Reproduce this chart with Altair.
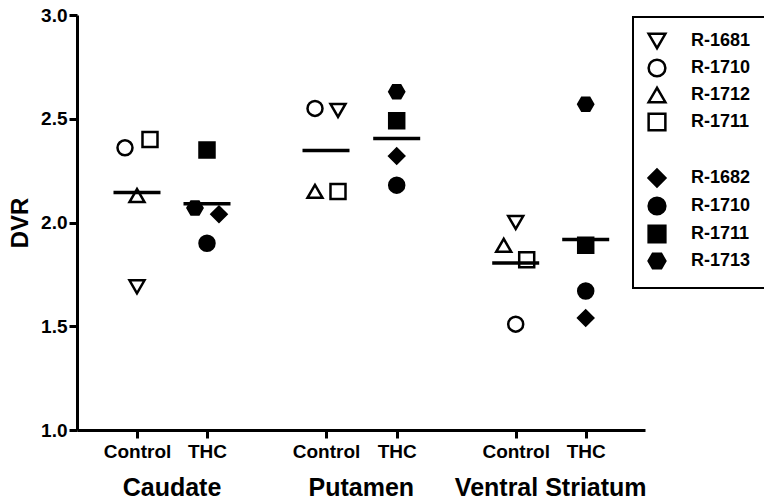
import altair as alt
import pandas as pd

# ---------------- data ----------------
regions = ["Caudate", "Putamen", "Ventral Striatum"]
conditions = ["Control", "THC"]
control_subjects = ["R-1681", "R-1710", "R-1712", "R-1711"]
thc_subjects = ["R-1682", "R-1710", "R-1711", "R-1713"]

caudate_control = [1.69, 2.36, 2.13, 2.40]
caudate_thc = [2.04, 1.90, 2.35, 2.07]
putamen_control = [2.54, 2.55, 2.15, 2.15]
putamen_thc = [2.32, 2.18, 2.49, 2.63]
ventral_control = [2.00, 1.51, 1.89, 1.82]
ventral_thc = [1.54, 1.67, 1.89, 2.57]

y_ticks = [1.0, 1.5, 2.0, 2.5, 3.0]

# ---------------- layout / styling ----------------
tick_positions = [1.0, 2.0, 3.7, 4.71, 6.41, 7.41]   # Control/THC slots on the x axis
x_domain = [0.143, 8.257]
plot_w, plot_h = 568, 415
px_per_unit = plot_w / (x_domain[1] - x_domain[0])
jitter_px = [[0, -12, 0, 13], [12, 0, 0, -12],
             [12, -11, -11, 12], [0, 0, 0, 0],
             [0, 0, -12, 11], [0, 0, 0, 0]]
half_bar = 23.5 / px_per_unit
FONT = "Liberation Sans"

series = [caudate_control, caudate_thc, putamen_control, putamen_thc,
          ventral_control, ventral_thc]

rows, means = [], []
for i, region in enumerate(regions):
    for j, cond in enumerate(conditions):
        idx = 2 * i + j
        subjects = control_subjects if j == 0 else thc_subjects
        vals = series[idx]
        pos = tick_positions[idx]
        for k, (sid, v) in enumerate(zip(subjects, vals)):
            rows.append({
                "region": region, "condition": cond,
                "key": ("c" if j == 0 else "t") + sid[2:],
                "x": pos + jitter_px[idx][k] / px_per_unit,
                "dvr": v,
            })
        m = sum(vals) / len(vals)
        means.append({"x": pos - half_bar, "x2": pos + half_bar, "dvr": m})

df = pd.DataFrame(rows)
df_mean = pd.DataFrame(means)
df_regions = pd.DataFrame({
    "region": regions,
    "x": [(tick_positions[2 * i] + tick_positions[2 * i + 1]) / 2 for i in range(3)],
    "dvr": [1.0] * 3,
})

key_domain = ["c1681", "c1710", "c1712", "c1711", "gap",
              "t1682", "t1710", "t1711", "t1713"]
hexagon = "M-1,0L-0.5,-0.866L0.5,-0.866L1,0L0.5,0.866L-0.5,0.866Z"
shape_range = ["triangle-down", "circle", "triangle-up", "square", "circle",
               "diamond", "circle", "square", hexagon]
fill_range = ["transparent"] * 5 + ["black"] * 4
stroke_range = ["black"] * 4 + ["transparent"] + ["black"] * 4

x_label_expr = " : ".join(
    f"datum.value == {p} ? '{conditions[n % 2]}'" for n, p in enumerate(tick_positions)
) + " : ''"

legend = alt.Legend(
    title=None, orient="none", legendX=556, legendY=2,
    strokeColor="black", padding=14, rowPadding=0,
    labelFont=FONT, labelFontSize=18, labelFontWeight="bold", labelColor="black",
    symbolSize=280, symbolStrokeWidth=2.5, labelOffset=24,
    labelExpr="datum.label == 'gap' ? '' : 'R-' + substring(datum.label, 1)",
)

x_enc = alt.X("x:Q", scale=alt.Scale(domain=x_domain, nice=False, zero=False),
              axis=alt.Axis(values=tick_positions, labelExpr=x_label_expr, title=None,
                            grid=False, tickSize=8, tickWidth=3, tickColor="black",
                            domainWidth=3, domainColor="black", labelPadding=4,
                            labelFont=FONT, labelFontSize=19, labelFontWeight="bold",
                            labelColor="black", labelFlush=False, labelOverlap=False))
y_enc = alt.Y("dvr:Q", scale=alt.Scale(domain=[1, 3], nice=False, zero=False),
              axis=alt.Axis(values=y_ticks, format=".1f", title="DVR", grid=False,
                            tickSize=8, tickWidth=3, tickColor="black",
                            domainWidth=3, domainColor="black", labelPadding=2,
                            labelFont=FONT, labelFontSize=19, labelFontWeight="bold",
                            labelColor="black", labelFlush=False,
                            titleFont=FONT, titleFontSize=24, titleFontWeight="bold",
                            titleColor="black", titlePadding=8))

points = alt.Chart(df).mark_point(filled=True, size=225, strokeWidth=2.5, opacity=1).encode(
    x=x_enc, y=y_enc,
    shape=alt.Shape("key:N", scale=alt.Scale(domain=key_domain, range=shape_range), legend=legend),
    fill=alt.Fill("key:N", scale=alt.Scale(domain=key_domain, range=fill_range), legend=legend),
    stroke=alt.Stroke("key:N", scale=alt.Scale(domain=key_domain, range=stroke_range), legend=legend),
)

bars = alt.Chart(df_mean).mark_rule(color="black", strokeWidth=3.5).encode(
    x="x:Q", x2="x2:Q", y="dvr:Q")

labels = alt.Chart(df_regions).mark_text(
    font=FONT, fontSize=25, fontWeight="bold", color="black",
    baseline="alphabetic", align="center", dy=66).encode(
    x="x:Q", y="dvr:Q", text="region:N")

chart = alt.layer(points, bars, labels).properties(
    width=plot_w, height=plot_h,
    padding={"left": 69, "top": 7, "right": 119, "bottom": 72},
    autosize=alt.AutoSizeParams(type="none"),
).configure_view(stroke=None).configure_legend(strokeWidth=2)

chart.save("out.html", embed_options={"renderer": "svg", "actions": False})
